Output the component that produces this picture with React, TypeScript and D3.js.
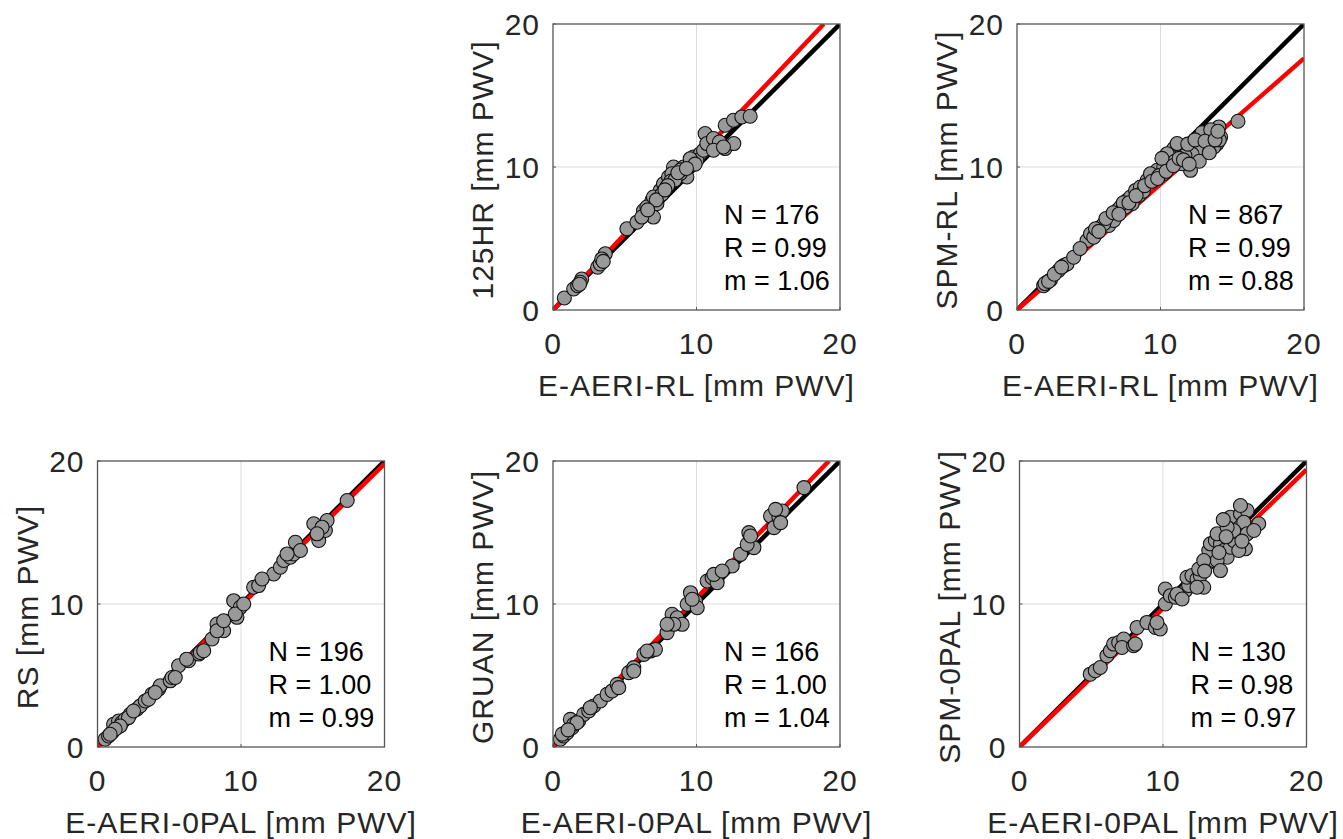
import React from 'react';
import * as d3 from 'd3';

// ---------- data ----------
const tickValues = [0, 10, 20];
const axisDomain: [number, number] = [0, 20];

const xLabels = ['E-AERI-RL [mm PWV]', 'E-AERI-RL [mm PWV]', 'E-AERI-0PAL [mm PWV]', 'E-AERI-0PAL [mm PWV]', 'E-AERI-0PAL [mm PWV]'];
const yLabels = ['125HR [mm PWV]', 'SPM-RL [mm PWV]', 'RS [mm PWV]', 'GRUAN [mm PWV]', 'SPM-0PAL [mm PWV]'];
const statN = ['176', '867', '196', '166', '130'];
const statR = ['0.99', '0.99', '1.00', '1.00', '0.98'];
const statM = ['1.06', '0.88', '0.99', '1.04', '0.97'];
const fitSlopes = [1.06, 0.88, 0.99, 1.04, 0.97];

const pts125HR: [number, number][] = [
  [0.79, 0.84], [1.44, 1.47], [1.72, 1.7], [2.0, 2.17], [1.9, 1.94], [3.11, 2.99], [3.29, 3.22], [3.64, 3.93],
  [3.4, 3.57], [5.15, 5.68], [5.85, 6.14], [6.31, 6.96], [6.77, 6.73], [7.0, 6.5], [6.89, 7.66], [7.35, 8.01],
  [7.47, 8.36], [7.7, 8.83], [8.05, 9.3], [8.4, 10.0], [8.28, 9.53], [7.93, 8.6], [8.63, 9.3], [9.1, 10.0],
  [9.56, 10.23], [9.79, 10.7], [10.26, 10.93], [10.02, 10.47], [10.49, 11.17], [10.6, 12.34], [10.72, 11.64],
  [11.18, 11.99], [11.6, 11.75], [11.99, 11.29], [12.6, 11.64], [12.0, 12.92], [12.58, 13.27], [13.16, 13.5],
  [13.74, 13.55], [9.33, 9.3], [8.86, 9.53], [7.24, 7.43], [6.54, 7.2], [6.19, 6.5], [7.0, 7.9], [9.56, 10.58],
  [11.18, 11.17], [11.88, 11.4], [8.2, 9.0], [8.5, 9.1], [8.9, 9.8], [7.6, 8.1], [7.2, 7.7], [9.9, 10.2],
  [8.0, 8.7], [8.7, 9.6], [9.3, 9.9], [7.8, 8.4], [6.6, 7.0], [3.5, 3.4], [1.85, 1.8],
];

const ptsSPMRL: [number, number][] = [
  [2.09, 1.94], [1.86, 1.7], [2.33, 2.1], [2.9, 2.76], [3.26, 3.1], [3.49, 3.22], [3.95, 3.69], [4.88, 4.86],
  [5.12, 5.33], [5.35, 5.09], [5.81, 5.79], [6.4, 5.91], [6.51, 6.5], [6.98, 6.96], [7.21, 7.2], [7.67, 7.66],
  [7.91, 7.9], [8.26, 8.36], [8.6, 8.6], [9.07, 9.07], [9.53, 9.3], [10.23, 9.53], [10.47, 10.0], [10.7, 10.7],
  [10.93, 11.29], [11.4, 11.4], [11.86, 11.17], [12.09, 9.77], [12.33, 10.7], [12.79, 11.87], [13.26, 12.1],
  [13.72, 12.34], [13.95, 11.64], [14.07, 12.8], [13.72, 11.4], [13.02, 11.17], [11.51, 10.23], [11.16, 11.64],
  [15.4, 13.2], [9.77, 9.77], [9.3, 9.53], [8.49, 8.01], [8.02, 7.43], [7.56, 7.2], [6.74, 6.26], [6.05, 6.03],
  [5.47, 5.68], [14.19, 12.1], [13.37, 11.64], [12.56, 11.17], [10.7, 10.23], [10.47, 10.93], [10.23, 10.0],
  [1.95, 1.85], [2.2, 2.0], [7.4, 7.5], [8.8, 8.3], [9.9, 9.4], [11.0, 10.4], [12.9, 12.4], [13.5, 12.6],
  [14.1, 11.9], [12.2, 10.9], [11.7, 10.8], [10.1, 10.6], [6.2, 6.4], [6.7, 6.8], [7.1, 6.7], [7.8, 7.5],
  [8.3, 8.0], [8.9, 8.7], [9.4, 9.0], [9.8, 9.2], [10.4, 9.7], [10.9, 10.1], [11.3, 10.6], [11.9, 11.6],
  [12.4, 11.9], [12.7, 10.4], [13.1, 11.8], [13.8, 11.9], [5.7, 5.5], [4.4, 4.3], [2.6, 2.5], [3.1, 3.0],
  [11.6, 10.5], [12.0, 10.2], [13.4, 11.0], [14.0, 12.5],
];

const ptsRS: [number, number][] = [
  [0.53, 0.54], [0.77, 0.77], [1.0, 1.0], [1.35, 1.36], [1.12, 1.59], [1.47, 1.82], [1.7, 1.71], [1.93, 1.94],
  [2.28, 2.29], [2.74, 2.64], [2.98, 2.87], [3.33, 3.22], [3.79, 3.69], [4.26, 4.04], [4.37, 4.28], [5.07, 4.63],
  [5.19, 4.86], [5.65, 5.68], [6.35, 6.03], [7.05, 6.5], [7.98, 7.55], [8.33, 8.6], [8.79, 8.13], [8.33, 8.13],
  [9.49, 10.23], [9.95, 9.77], [9.72, 9.07], [9.6, 9.3], [10.88, 11.17], [11.23, 11.29], [12.28, 12.1],
  [12.74, 12.57], [12.98, 13.04], [13.44, 13.27], [13.67, 13.5], [13.79, 14.32], [14.14, 13.74], [15.07, 15.61],
  [15.42, 14.44], [15.88, 15.14], [16.0, 15.84], [15.65, 15.37], [17.4, 17.24], [2.16, 2.06], [1.58, 1.47],
  [1.23, 1.24], [0.88, 0.89], [2.51, 2.52], [3.56, 3.34], [4.02, 3.81], [5.42, 4.86], [6.21, 6.14], [7.16, 6.61],
  [7.4, 6.73], [10.19, 10.0], [8.79, 8.83], [11.47, 11.75], [13.21, 13.5], [15.3, 14.91],
];

const ptsGRUAN: [number, number][] = [
  [0.51, 0.54], [0.74, 0.77], [0.98, 1.0], [1.33, 1.35], [1.21, 1.93], [1.44, 1.59], [1.79, 1.82], [2.14, 2.28],
  [2.49, 2.52], [2.84, 2.87], [3.3, 3.22], [3.77, 3.68], [4.12, 3.92], [4.47, 4.38], [5.28, 5.2], [5.63, 5.55],
  [6.33, 6.48], [6.79, 6.71], [7.14, 6.83], [7.95, 8.0], [8.3, 9.28], [8.65, 9.04], [9.0, 8.58], [9.35, 9.98],
  [9.58, 10.79], [9.93, 10.21], [10.05, 9.74], [10.74, 11.61], [11.09, 11.84], [11.44, 11.49], [12.49, 12.66],
  [13.07, 13.47], [13.65, 14.99], [14.0, 13.94], [13.53, 14.17], [15.16, 16.15], [15.4, 15.34], [15.74, 16.08],
  [15.98, 16.5], [15.51, 16.62], [17.49, 18.14], [1.67, 1.7], [2.6, 2.75], [4.58, 4.15], [5.63, 5.31],
  [6.56, 6.71], [8.42, 8.58], [9.7, 10.33], [11.21, 12.07], [11.79, 12.31], [13.77, 14.76], [15.86, 15.69],
  [7.95, 8.58], [0.65, 0.9], [1.05, 1.2],
];

const ptsSPM0PAL: [number, number][] = [
  [4.93, 5.09], [5.28, 5.33], [5.63, 5.56], [6.09, 6.38], [6.33, 6.73], [6.56, 7.2], [6.91, 7.31], [7.26, 7.55],
  [7.14, 6.96], [7.95, 7.08], [8.07, 7.2], [8.19, 8.36], [8.88, 8.71], [9.47, 8.36], [9.81, 8.25], [9.58, 8.71],
  [10.16, 10.0], [10.16, 11.05], [10.51, 10.58], [10.86, 10.47], [11.21, 10.7], [11.56, 10.93], [11.79, 11.29],
  [11.67, 11.87], [12.02, 11.99], [12.37, 11.75], [12.6, 11.99], [12.84, 11.17], [12.49, 12.45], [13.07, 12.8],
  [13.53, 13.04], [13.19, 13.74], [13.3, 14.21], [13.65, 14.44], [14.0, 14.21], [14.23, 13.74], [14.47, 13.27],
  [14.7, 13.97], [14.93, 14.44], [15.16, 15.02], [15.05, 15.61], [14.7, 16.07], [15.4, 16.31], [15.86, 16.54],
  [15.63, 15.72], [15.86, 14.91], [15.74, 13.86], [16.67, 15.61], [16.33, 15.14], [13.77, 13.04], [14.0, 12.34],
  [12.84, 13.04], [15.28, 13.74], [14.93, 15.14], [13.77, 14.91], [12.37, 11.17], [10.98, 10.7], [11.33, 10.35],
  [14.47, 15.37], [15.4, 16.89], [13.9, 13.6], [14.4, 14.7], [15.5, 14.4], [14.2, 15.9], [12.9, 12.3],
];

const panelPoints = [pts125HR, ptsSPMRL, ptsRS, ptsGRUAN, ptsSPM0PAL];

// ---------- layout ----------
const boxes = [
  { left: 553, top: 24, w: 287, h: 286 },
  { left: 1017, top: 24, w: 287, h: 286 },
  { left: 97.5, top: 461, w: 287, h: 286 },
  { left: 553, top: 461, w: 287, h: 286 },
  { left: 1019.5, top: 461, w: 287, h: 286 },
];

const FONT = "'Liberation Sans', Arial, Helvetica, sans-serif";
const TXT = '#262626';
const AX_FS = 30;
const AX_LS = 1;

function Panel({ idx }: { idx: number }) {
  const b = boxes[idx];
  const x = d3.scaleLinear().domain(axisDomain).range([b.left, b.left + b.w]);
  const y = d3.scaleLinear().domain(axisDomain).range([b.top + b.h, b.top]);
  const slope = fitSlopes[idx];
  const line = d3.line<[number, number]>().x((d) => x(d[0])).y((d) => y(d[1]));
  const clipId = `clip${idx}`;
  const pts = panelPoints[idx];
  const fitEndX = Math.min(20, 20 / slope);
  return (
    <g>
      <defs>
        <clipPath id={clipId}>
          <rect x={b.left} y={b.top} width={b.w} height={b.h} />
        </clipPath>
      </defs>
      <rect x={b.left} y={b.top} width={b.w} height={b.h} fill="#fff" />
      {tickValues.slice(1, 2).map((t) => (
        <g key={`g${t}`}>
          <line x1={x(t)} x2={x(t)} y1={b.top} y2={b.top + b.h} stroke="#dcdcdc" strokeWidth={1} />
          <line x1={b.left} x2={b.left + b.w} y1={y(t)} y2={y(t)} stroke="#dcdcdc" strokeWidth={1} />
        </g>
      ))}
      <g clipPath={`url(#${clipId})`}>
        <path d={line([[0, 0], [20, 20]]) || ''} stroke="#000" strokeWidth={4.5} fill="none" />
        <path d={line([[0, 0], [fitEndX, fitEndX * slope]]) || ''} stroke="#ff0000" strokeWidth={4.5} fill="none" />
      </g>
      {pts.map((p, i) => (
        <circle key={i} cx={x(p[0])} cy={y(p[1])} r={7} fill="#999999" stroke="#111" strokeWidth={1.1} />
      ))}
      <rect x={b.left} y={b.top} width={b.w} height={b.h} fill="none" stroke="#555" strokeWidth={1.3} />
      {tickValues.map((t) => (
        <g key={`t${t}`}>
          <line x1={x(t)} x2={x(t)} y1={b.top + b.h} y2={b.top + b.h - 3} stroke="#555" />
          <line x1={b.left} x2={b.left + 3} y1={y(t)} y2={y(t)} stroke="#555" />
          <text x={x(t)} y={b.top + b.h + 44} textAnchor="middle" fontSize={AX_FS} letterSpacing={AX_LS} fill={TXT} fontFamily={FONT}>
            {String(t)}
          </text>
          <text x={b.left - 13} y={y(t) + 10.6} textAnchor="end" fontSize={AX_FS} letterSpacing={AX_LS} fill={TXT} fontFamily={FONT}>
            {String(t)}
          </text>
        </g>
      ))}
      <text x={b.left + b.w / 2} y={b.top + b.h + 86} textAnchor="middle" fontSize={AX_FS} letterSpacing={AX_LS} fill={TXT} fontFamily={FONT}>
        {xLabels[idx]}
      </text>
      <text
        transform={`translate(${b.left - 60},${b.top + b.h / 2 + 3}) rotate(-90)`}
        textAnchor="middle"
        fontSize={AX_FS}
        letterSpacing={AX_LS}
        fill={TXT}
        fontFamily={FONT}
      >
        {yLabels[idx]}
      </text>
      <g fontSize={27} fill="#000" fontFamily={FONT}>
        <text x={b.left + 171} y={b.top + b.h - 86}>{`N = ${statN[idx]}`}</text>
        <text x={b.left + 171} y={b.top + b.h - 53}>{`R = ${statR[idx]}`}</text>
        <text x={b.left + 171} y={b.top + b.h - 20}>{`m = ${statM[idx]}`}</text>
      </g>
    </g>
  );
}

export default function App() {
  return (
    <svg
      width={1343}
      height={839}
      viewBox="0 0 1343 839"
      style={{ position: 'absolute', left: 0, top: 0, background: '#fff' }}
    >
      <rect x={0} y={0} width={1343} height={839} fill="#fff" />
      {boxes.map((_, i) => (
        <Panel key={i} idx={i} />
      ))}
    </svg>
  );
}
